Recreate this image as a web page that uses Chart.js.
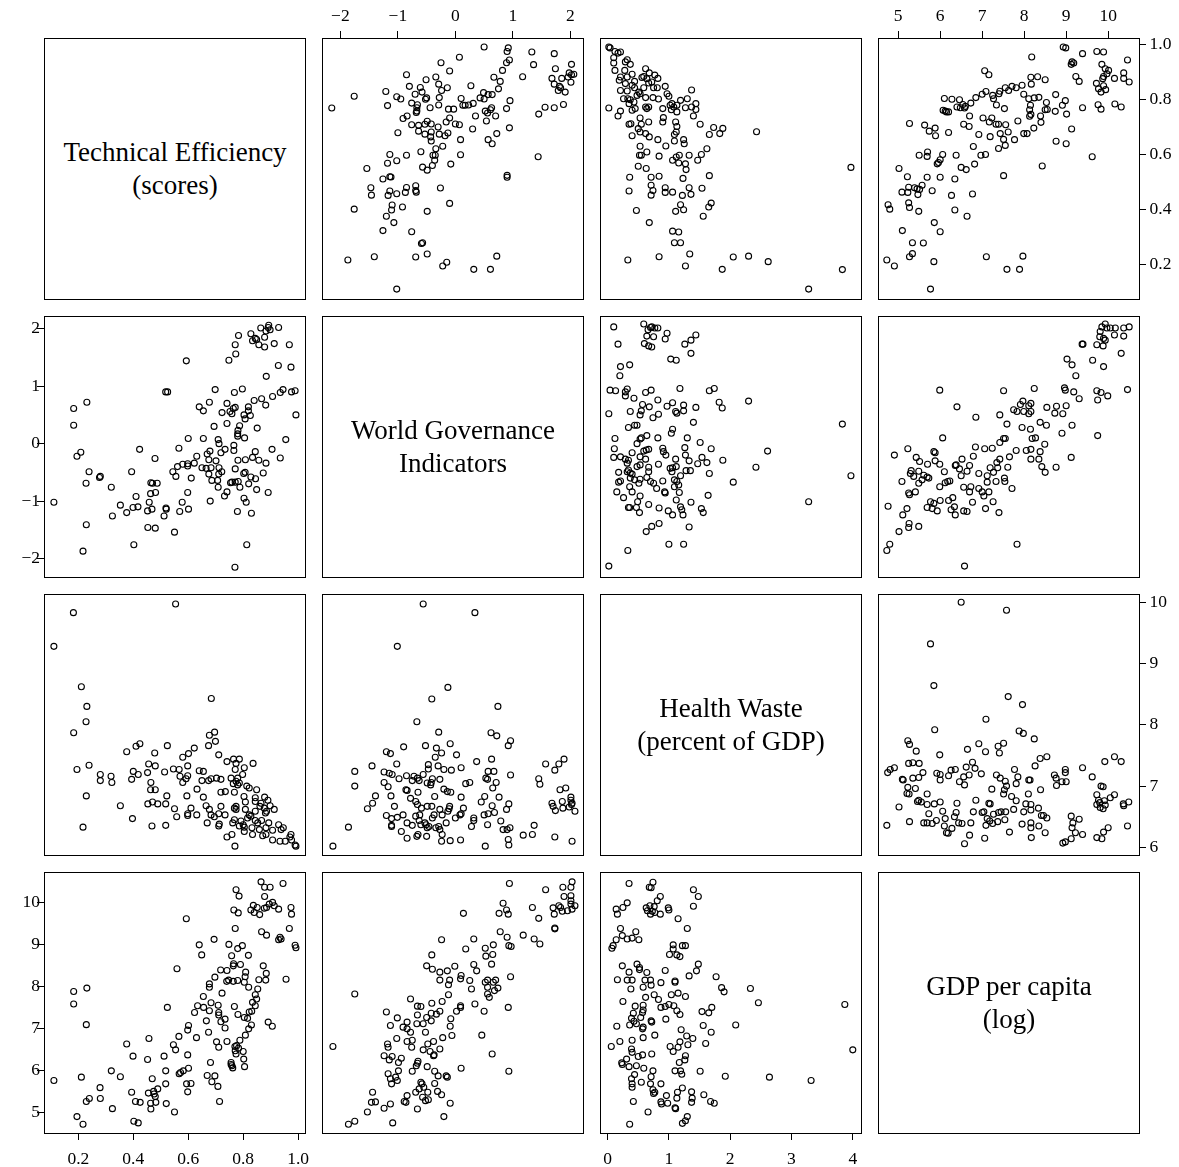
<!DOCTYPE html>
<html><head><meta charset="utf-8">
<script src="https://cdn.jsdelivr.net/npm/chart.js@4.4.1/dist/chart.umd.min.js"></script>
<style>
html,body{margin:0;padding:0;background:#fff;}
#wrap{position:relative;width:1179px;height:1167px;overflow:hidden;background:#fff;}
#wrap canvas{position:absolute;}
.diag{position:absolute;box-sizing:border-box;border:1px solid #000;display:flex;flex-direction:column;align-items:center;justify-content:center;text-align:center;font-family:"Liberation Serif","Times New Roman",serif;font-size:27px;line-height:33px;color:#000;}
</style></head><body><div id="wrap"></div>
<script>
// ---- variables (diagonal order) ----
const varKeys = ['te','wgi','hw','gdp'];
const diagLabels = [
  ['Technical Efficiency','(scores)'],
  ['World Governance','Indicators'],
  ['Health Waste','(percent of GDP)'],
  ['GDP per capita','(log)']
];
// ---- tick values and labels ----
const teTicks = [0.2,0.4,0.6,0.8,1.0];
const teTickLabels = ['0.2','0.4','0.6','0.8','1.0'];
const wgiTicks = [-2,-1,0,1,2];
const wgiTickLabels = ['\u22122','\u22121','0','1','2'];
const hwTicks = [0,1,2,3,4];
const hwTickLabelsBottom = ['0','1','2','3','4'];
const hwTickLabelsRight = ['6','7','8','9','10'];
const gdpTicks = [5,6,7,8,9,10];
const gdpTickLabels = ['5','6','7','8','9','10'];

// ---- observed pairs, [x, y] as in the upper-triangle panels ----
// [WGI, TE]
const pairsWgiTe = [[0.50,0.992],[0.92,0.989],[0.90,0.976],[1.33,0.974],[1.72,0.968],[0.07,0.955],[-0.25,0.935],[0.94,0.945],[0.89,0.935],[1.36,0.928],[2.02,0.929],[-0.10,0.905],[0.82,0.907],[1.74,0.913],[-0.85,0.891],[-0.34,0.883],[0.67,0.882],[1.17,0.884],[1.68,0.878],[1.85,0.878],[1.98,0.898],[2.02,0.891],[2.06,0.893],[1.96,0.883],[2.01,0.864],[-0.51,0.873],[0.78,0.867],[-0.80,0.849],[-0.29,0.857],[-0.61,0.845],[-0.14,0.844],[0.27,0.851],[1.72,0.857],[1.81,0.849],[1.83,0.844],[1.79,0.834],[1.91,0.828],[-1.21,0.830],[-0.24,0.834],[-0.58,0.828],[0.75,0.840],[0.49,0.826],[0.57,0.819],[0.64,0.819],[-0.70,0.820],[-1.02,0.811],[-0.95,0.803],[-1.76,0.813],[-0.50,0.807],[-0.52,0.802],[-0.28,0.808],[0.10,0.805],[0.43,0.807],[0.50,0.803],[0.95,0.797],[-0.76,0.788],[-0.66,0.782],[-0.29,0.781],[-1.18,0.779],[0.13,0.780],[0.17,0.780],[0.23,0.781],[0.31,0.787],[1.88,0.783],[1.56,0.773],[1.72,0.771],[-2.15,0.770],[-0.67,0.771],[-0.67,0.759],[-0.68,0.754],[-0.44,0.771],[-0.12,0.766],[-0.03,0.766],[0.63,0.771],[0.89,0.768],[0.52,0.759],[0.61,0.764],[0.56,0.752],[1.45,0.748],[0.35,0.741],[0.70,0.741],[-0.84,0.741],[-0.91,0.732],[-0.10,0.734],[0.54,0.723],[-0.49,0.722],[-0.53,0.711],[-0.42,0.712],[-0.16,0.719],[-0.76,0.709],[-0.64,0.707],[-0.30,0.701],[0.00,0.712],[0.07,0.709],[0.30,0.694],[0.94,0.698],[-1.00,0.680],[-0.64,0.686],[-0.53,0.675],[-0.42,0.683],[-0.43,0.665],[-0.42,0.650],[-0.28,0.675],[-0.18,0.669],[-0.13,0.679],[0.72,0.677],[0.57,0.655],[0.64,0.640],[0.09,0.655],[-0.22,0.631],[-0.34,0.622],[-0.60,0.611],[-0.39,0.598],[-0.35,0.598],[-0.36,0.580],[-1.14,0.601],[-0.85,0.598],[0.09,0.600],[1.44,0.593],[-1.18,0.569],[-1.02,0.578],[-0.08,0.566],[-1.54,0.550],[-0.57,0.555],[-0.49,0.544],[-0.40,0.561],[-1.26,0.512],[-1.14,0.520],[-1.12,0.519],[0.90,0.525],[0.90,0.518],[-0.69,0.487],[-1.47,0.480],[-0.85,0.481],[-0.26,0.479],[-1.46,0.453],[-1.14,0.468],[-1.17,0.452],[-1.02,0.458],[-0.87,0.463],[-0.69,0.470],[-0.68,0.464],[-0.10,0.423],[-1.76,0.402],[-1.10,0.417],[-1.11,0.399],[-0.92,0.410],[-0.49,0.394],[-1.20,0.376],[-1.07,0.353],[-1.26,0.324],[-0.76,0.320],[-0.57,0.280],[-0.59,0.277],[-1.87,0.217],[-1.41,0.229],[-0.69,0.228],[-0.49,0.239],[-0.15,0.209],[-0.22,0.195],[0.32,0.183],[0.61,0.183],[0.72,0.231],[-1.02,0.111]];
// [HW, TE]
const pairsHwTe = [[0.02,0.992],[0.04,0.989],[0.12,0.976],[0.17,0.970],[0.21,0.974],[0.10,0.953],[0.32,0.946],[0.29,0.938],[0.37,0.929],[0.10,0.934],[0.12,0.907],[0.28,0.907],[0.62,0.913],[0.40,0.893],[0.59,0.885],[0.68,0.898],[0.77,0.890],[0.82,0.878],[0.64,0.877],[0.56,0.881],[0.21,0.883],[0.32,0.883],[0.19,0.871],[0.44,0.867],[0.67,0.861],[0.72,0.865],[0.29,0.859],[0.40,0.853],[0.94,0.849],[0.75,0.844],[0.81,0.844],[0.59,0.844],[0.21,0.834],[0.32,0.832],[0.44,0.844],[1.37,0.836],[0.51,0.828],[0.53,0.822],[0.48,0.816],[0.97,0.822],[1.00,0.813],[0.26,0.804],[0.33,0.804],[0.37,0.800],[0.62,0.808],[0.74,0.808],[0.83,0.803],[0.35,0.786],[0.43,0.792],[1.19,0.798],[1.30,0.804],[1.02,0.780],[1.05,0.786],[1.08,0.774],[1.13,0.780],[1.27,0.771],[1.37,0.774],[1.44,0.786],[1.44,0.765],[0.02,0.770],[0.21,0.759],[0.17,0.741],[0.40,0.762],[0.45,0.768],[0.62,0.774],[0.67,0.774],[0.64,0.768],[0.90,0.768],[1.04,0.764],[1.13,0.756],[1.40,0.741],[0.53,0.734],[0.91,0.735],[0.90,0.719],[0.67,0.719],[1.11,0.719],[1.13,0.703],[0.35,0.711],[0.38,0.713],[0.55,0.711],[0.50,0.695],[1.51,0.711],[1.73,0.699],[1.88,0.696],[1.66,0.674],[1.83,0.677],[2.43,0.684],[0.53,0.683],[0.62,0.677],[0.68,0.665],[0.40,0.669],[1.12,0.683],[1.09,0.674],[0.82,0.655],[1.09,0.650],[1.24,0.655],[1.25,0.640],[0.95,0.632],[0.53,0.631],[1.62,0.622],[0.64,0.610],[0.52,0.598],[0.55,0.598],[0.84,0.595],[1.17,0.598],[1.33,0.598],[1.53,0.601],[1.12,0.592],[1.06,0.580],[1.16,0.570],[1.27,0.567],[1.47,0.580],[0.50,0.558],[0.63,0.550],[1.28,0.546],[3.97,0.554],[0.36,0.518],[0.71,0.518],[0.84,0.522],[1.23,0.514],[1.66,0.524],[0.71,0.489],[0.74,0.470],[0.71,0.453],[0.35,0.468],[0.94,0.480],[0.94,0.463],[1.06,0.464],[1.33,0.480],[1.36,0.456],[1.22,0.452],[1.54,0.478],[1.69,0.424],[1.65,0.410],[1.19,0.418],[1.24,0.400],[1.11,0.394],[0.47,0.397],[1.56,0.376],[0.68,0.353],[1.06,0.322],[1.16,0.319],[1.09,0.280],[1.19,0.280],[0.33,0.217],[0.84,0.229],[1.34,0.239],[1.27,0.195],[2.05,0.228],[2.30,0.231],[2.62,0.211],[1.87,0.183],[3.83,0.182],[3.28,0.111]];
// [GDP, TE]
const pairsGdpTe = [[8.93,0.992],[8.99,0.989],[9.73,0.976],[9.89,0.974],[9.39,0.968],[8.18,0.956],[10.46,0.945],[9.14,0.938],[9.18,0.934],[9.12,0.929],[9.85,0.929],[7.06,0.906],[7.16,0.891],[9.93,0.913],[10.01,0.907],[9.97,0.895],[10.37,0.898],[10.15,0.878],[9.89,0.885],[9.87,0.877],[10.37,0.878],[10.50,0.865],[9.23,0.885],[9.31,0.867],[8.16,0.882],[8.32,0.884],[8.50,0.873],[8.17,0.857],[9.72,0.860],[9.89,0.851],[9.94,0.837],[9.77,0.840],[9.83,0.828],[7.95,0.853],[7.71,0.849],[7.55,0.844],[7.81,0.844],[7.63,0.834],[7.42,0.831],[7.40,0.822],[7.25,0.816],[7.09,0.830],[7.00,0.820],[6.85,0.808],[6.73,0.788],[7.99,0.820],[8.11,0.804],[8.24,0.807],[8.35,0.809],[8.75,0.819],[8.98,0.797],[8.53,0.790],[8.50,0.764],[8.55,0.765],[8.91,0.780],[8.74,0.758],[9.01,0.748],[9.39,0.771],[9.76,0.782],[9.83,0.766],[10.16,0.785],[10.31,0.774],[6.10,0.805],[6.28,0.802],[6.46,0.800],[6.48,0.771],[6.54,0.783],[6.60,0.776],[6.40,0.774],[6.58,0.770],[6.07,0.762],[6.12,0.759],[6.20,0.756],[6.15,0.756],[7.27,0.804],[7.34,0.781],[7.53,0.768],[8.15,0.780],[8.13,0.764],[8.16,0.747],[8.39,0.741],[8.40,0.718],[8.13,0.740],[6.70,0.741],[7.02,0.734],[7.23,0.734],[7.17,0.719],[7.33,0.711],[7.39,0.711],[7.56,0.709],[7.85,0.723],[8.23,0.697],[9.13,0.694],[5.27,0.714],[5.63,0.708],[5.88,0.697],[5.74,0.686],[5.89,0.669],[6.20,0.681],[6.56,0.711],[6.69,0.703],[6.92,0.674],[7.19,0.666],[7.43,0.677],[7.62,0.683],[7.51,0.656],[7.77,0.655],[7.99,0.677],[8.07,0.677],[8.76,0.649],[9.00,0.640],[6.79,0.630],[7.55,0.634],[7.39,0.623],[5.50,0.598],[5.70,0.610],[5.69,0.594],[6.06,0.601],[6.00,0.582],[5.96,0.572],[5.93,0.567],[6.38,0.598],[6.97,0.598],[7.08,0.601],[6.82,0.566],[6.50,0.554],[6.62,0.546],[9.62,0.593],[8.43,0.559],[7.51,0.524],[5.02,0.550],[5.22,0.520],[5.69,0.518],[6.00,0.518],[6.35,0.512],[5.25,0.482],[5.39,0.480],[5.45,0.476],[5.51,0.474],[5.57,0.489],[5.09,0.464],[5.23,0.463],[5.47,0.455],[5.81,0.469],[6.27,0.452],[6.77,0.457],[4.76,0.418],[4.80,0.402],[5.25,0.425],[5.27,0.408],[5.49,0.394],[6.35,0.399],[6.64,0.376],[5.86,0.353],[6.00,0.320],[5.10,0.324],[5.34,0.280],[5.60,0.279],[5.27,0.229],[5.34,0.240],[4.73,0.217],[4.91,0.195],[5.85,0.211],[7.10,0.229],[7.97,0.231],[7.59,0.183],[7.89,0.183],[5.77,0.111]];
// [HW, WGI]
const pairsHwWgi = [[0.10,2.03],[0.59,2.08],[0.66,1.98],[0.70,2.02],[0.72,2.03],[0.77,2.01],[0.82,2.01],[0.64,1.87],[0.75,1.86],[0.97,1.92],[0.94,1.82],[1.44,1.89],[1.36,1.80],[1.26,1.73],[0.60,1.74],[0.67,1.70],[0.72,1.68],[0.17,1.73],[1.36,1.57],[1.03,1.47],[1.12,1.45],[0.21,1.34],[0.36,1.37],[0.20,1.18],[0.04,0.93],[0.13,0.92],[0.29,0.90],[0.32,0.95],[0.29,0.83],[0.62,0.89],[0.71,0.93],[1.18,0.96],[1.66,0.92],[1.74,0.96],[0.43,0.79],[0.82,0.76],[0.57,0.68],[0.68,0.64],[0.97,0.65],[1.06,0.71],[1.24,0.67],[1.24,0.57],[1.44,0.63],[1.82,0.72],[1.87,0.62],[2.30,0.74],[0.02,0.52],[0.37,0.56],[0.53,0.50],[0.55,0.57],[0.74,0.45],[0.83,0.51],[1.11,0.56],[1.13,0.53],[1.40,0.37],[0.44,0.32],[0.48,0.32],[0.34,0.28],[1.06,0.25],[1.04,0.18],[3.83,0.34],[0.12,0.09],[0.55,0.10],[0.53,0.08],[0.64,0.14],[0.82,0.10],[1.30,0.10],[1.51,0.02],[0.48,0.00],[0.11,-0.09],[0.40,-0.16],[0.59,-0.13],[0.63,-0.11],[0.67,-0.10],[0.90,-0.08],[0.91,-0.14],[0.95,-0.20],[1.26,-0.07],[1.27,-0.20],[1.69,-0.09],[2.61,-0.13],[0.10,-0.24],[0.21,-0.23],[0.29,-0.27],[0.34,-0.29],[0.53,-0.23],[0.62,-0.27],[0.32,-0.34],[0.48,-0.40],[0.53,-0.37],[0.83,-0.36],[1.11,-0.27],[1.33,-0.30],[1.47,-0.35],[1.54,-0.24],[1.62,-0.33],[1.88,-0.29],[2.42,-0.41],[0.18,-0.50],[0.32,-0.49],[0.34,-0.46],[0.37,-0.51],[0.40,-0.53],[0.67,-0.41],[0.67,-0.49],[1.02,-0.43],[1.06,-0.42],[1.12,-0.40],[1.05,-0.49],[1.19,-0.56],[1.28,-0.47],[1.35,-0.47],[1.66,-0.52],[3.97,-0.56],[0.21,-0.65],[0.18,-0.67],[0.37,-0.60],[0.44,-0.63],[0.53,-0.62],[0.51,-0.69],[0.64,-0.59],[0.70,-0.66],[0.75,-0.69],[0.90,-0.65],[1.09,-0.63],[1.13,-0.66],[1.16,-0.72],[1.09,-0.75],[2.05,-0.67],[0.15,-0.84],[0.36,-0.75],[0.40,-0.84],[0.80,-0.78],[0.93,-0.84],[0.94,-0.86],[1.17,-0.85],[0.26,-0.94],[0.53,-0.91],[0.49,-1.01],[1.12,-0.98],[1.36,-1.02],[1.64,-0.90],[3.28,-1.01],[0.36,-1.11],[0.34,-1.11],[0.47,-1.11],[0.52,-1.20],[0.67,-1.06],[0.84,-1.12],[0.99,-1.17],[1.06,-1.24],[1.19,-1.10],[1.21,-1.15],[1.23,-1.24],[1.53,-1.13],[1.56,-1.20],[0.63,-1.53],[0.72,-1.44],[0.84,-1.39],[1.33,-1.45],[1.00,-1.75],[1.24,-1.75],[0.33,-1.86],[0.02,-2.13]];
// [GDP, WGI]
const pairsGdpWgi = [[9.93,2.08],[9.85,2.03],[9.97,2.01],[10.05,2.01],[10.17,2.01],[10.37,2.01],[10.50,2.03],[9.81,1.95],[9.80,1.86],[9.89,1.83],[9.93,1.80],[10.15,1.89],[10.37,1.87],[9.73,1.72],[9.88,1.70],[9.38,1.73],[9.40,1.73],[10.31,1.57],[9.02,1.47],[9.14,1.37],[9.63,1.45],[9.89,1.34],[9.23,1.18],[5.99,0.93],[7.51,0.92],[8.24,0.96],[8.96,0.97],[8.98,0.93],[9.18,0.90],[9.73,0.92],[9.83,0.89],[9.99,0.83],[10.46,0.94],[9.31,0.78],[9.75,0.76],[6.40,0.64],[7.97,0.74],[7.91,0.68],[8.16,0.70],[8.11,0.66],[8.54,0.63],[8.77,0.65],[9.00,0.66],[7.75,0.59],[7.83,0.56],[7.99,0.56],[8.11,0.52],[8.16,0.56],[8.73,0.53],[8.92,0.52],[6.85,0.46],[7.42,0.50],[7.59,0.34],[8.38,0.37],[8.53,0.32],[7.95,0.28],[8.15,0.25],[9.14,0.32],[8.90,0.18],[9.75,0.14],[6.06,0.10],[7.51,0.09],[7.55,0.09],[7.42,0.02],[8.19,0.09],[8.27,0.10],[8.49,-0.01],[4.91,-0.20],[5.23,-0.09],[5.85,-0.14],[5.88,-0.16],[6.84,-0.06],[7.06,-0.09],[7.24,-0.08],[7.81,-0.12],[8.05,-0.12],[8.16,-0.10],[8.38,-0.14],[9.12,-0.24],[5.43,-0.24],[5.51,-0.31],[5.70,-0.36],[5.88,-0.30],[5.99,-0.36],[6.38,-0.37],[6.52,-0.27],[6.79,-0.22],[7.65,-0.23],[7.42,-0.27],[7.35,-0.33],[8.16,-0.27],[8.35,-0.27],[8.42,-0.40],[8.50,-0.50],[8.76,-0.41],[5.31,-0.47],[5.29,-0.52],[5.37,-0.57],[5.49,-0.48],[5.61,-0.55],[5.69,-0.58],[5.73,-0.60],[5.57,-0.63],[5.49,-0.69],[6.10,-0.49],[6.36,-0.38],[6.46,-0.44],[6.50,-0.56],[6.64,-0.48],[6.70,-0.38],[6.92,-0.52],[7.12,-0.56],[7.19,-0.42],[7.27,-0.50],[7.37,-0.42],[7.61,-0.41],[5.09,-0.66],[5.41,-0.84],[5.25,-0.86],[5.27,-0.89],[5.99,-0.75],[6.12,-0.68],[6.18,-0.66],[6.23,-0.65],[6.56,-0.76],[6.73,-0.75],[6.70,-0.84],[6.92,-0.78],[7.00,-0.84],[7.04,-0.91],[7.12,-0.67],[7.33,-0.66],[7.53,-0.60],[7.54,-0.66],[7.71,-0.78],[7.16,-0.84],[4.76,-1.09],[5.21,-1.13],[5.11,-1.24],[5.77,-1.01],[5.85,-1.04],[5.69,-1.11],[5.81,-1.13],[5.93,-1.17],[6.00,-0.99],[6.20,-0.99],[6.30,-0.94],[6.26,-1.15],[6.34,-1.10],[6.36,-1.24],[6.56,-1.17],[6.64,-1.18],[6.77,-1.02],[7.08,-1.13],[7.26,-1.01],[7.40,-1.20],[5.26,-1.39],[5.25,-1.46],[5.49,-1.44],[5.02,-1.53],[4.80,-1.75],[4.73,-1.86],[7.83,-1.75],[6.58,-2.13]];
// [GDP, HW]
const pairsGdpHw = [[6.50,4.00],[7.58,3.87],[5.77,3.32],[5.85,2.64],[7.62,2.46],[7.96,2.33],[7.09,2.09],[5.87,1.92],[7.88,1.90],[7.98,1.86],[8.24,1.77],[5.23,1.74],[5.27,1.68],[5.43,1.57],[6.65,1.60],[6.92,1.69],[7.08,1.56],[7.38,1.65],[7.51,1.70],[7.41,1.54],[5.99,1.51],[8.38,1.45],[8.54,1.48],[5.25,1.37],[5.35,1.38],[5.50,1.37],[6.77,1.39],[6.62,1.31],[6.83,1.29],[7.77,1.27],[8.26,1.33],[8.98,1.27],[9.39,1.30],[9.92,1.40],[10.15,1.48],[10.31,1.40],[4.75,1.22],[4.81,1.27],[4.91,1.30],[5.59,1.22],[5.92,1.21],[6.00,1.19],[6.20,1.17],[6.26,1.26],[6.36,1.27],[6.56,1.15],[6.69,1.18],[6.98,1.20],[7.34,1.18],[7.43,1.13],[7.85,1.15],[8.11,1.10],[8.14,1.10],[8.72,1.18],[8.76,1.13],[8.98,1.22],[8.90,1.07],[9.00,1.07],[9.62,1.15],[5.10,1.11],[5.12,1.10],[5.35,1.13],[5.49,1.14],[6.00,1.10],[6.46,1.07],[6.58,1.02],[7.55,1.08],[7.58,1.00],[7.81,1.04],[8.77,1.01],[5.23,0.98],[5.41,0.96],[5.21,0.88],[5.26,0.87],[5.69,0.87],[7.23,0.95],[7.53,0.94],[7.51,0.87],[7.70,0.83],[8.10,0.87],[8.39,0.94],[9.83,1.00],[9.88,0.99],[5.49,0.77],[5.46,0.75],[5.55,0.74],[5.69,0.70],[5.02,0.66],[5.86,0.71],[6.00,0.74],[6.40,0.72],[6.85,0.77],[7.16,0.72],[7.19,0.71],[7.81,0.76],[8.04,0.71],[8.16,0.70],[8.34,0.64],[9.73,0.86],[9.77,0.77],[9.80,0.73],[9.91,0.76],[10.05,0.81],[10.15,0.86],[10.36,0.71],[10.49,0.74],[9.73,0.70],[9.81,0.65],[9.88,0.63],[9.93,0.69],[10.37,0.68],[5.73,0.55],[6.06,0.59],[6.12,0.47],[6.38,0.57],[6.34,0.50],[6.79,0.58],[7.00,0.57],[7.04,0.58],[7.12,0.47],[7.27,0.54],[7.39,0.57],[7.45,0.58],[7.56,0.58],[7.75,0.62],[7.99,0.58],[8.16,0.61],[8.41,0.52],[8.46,0.52],[8.54,0.48],[9.12,0.51],[9.31,0.46],[4.73,0.36],[5.27,0.42],[5.61,0.40],[5.69,0.40],[5.81,0.39],[5.91,0.44],[6.10,0.35],[6.28,0.31],[6.15,0.24],[6.19,0.23],[6.44,0.40],[6.52,0.39],[6.73,0.40],[7.09,0.36],[7.18,0.43],[7.25,0.39],[7.37,0.42],[7.54,0.45],[7.95,0.38],[8.16,0.40],[8.16,0.32],[8.35,0.35],[7.65,0.25],[6.70,0.20],[6.58,0.06],[7.06,0.15],[8.17,0.16],[8.50,0.24],[9.16,0.40],[9.14,0.32],[9.22,0.24],[9.39,0.21],[9.12,0.14],[8.98,0.09],[8.92,0.07],[10.00,0.32],[9.89,0.25],[9.73,0.16],[9.85,0.14],[10.46,0.35]];

// ---- scale setup per variable ----
const axisInfo = {
  te:  {min:0.075, max:1.025, ticks:teTicks,  bottom:teTickLabels,  right:teTickLabels,  top:teTickLabels,  left:teTickLabels},
  wgi: {min:-2.32, max:2.22,  ticks:wgiTicks, bottom:wgiTickLabels, right:wgiTickLabels, top:wgiTickLabels, left:wgiTickLabels},
  hw:  {min:-0.124,max:4.134, ticks:hwTicks,  bottom:hwTickLabelsBottom, right:hwTickLabelsRight, top:hwTickLabelsBottom, left:hwTickLabelsRight},
  gdp: {min:4.52,  max:10.734,ticks:gdpTicks, bottom:gdpTickLabels, right:gdpTickLabels, top:gdpTickLabels, left:gdpTickLabels}
};
const pairTable = {
  '0-1': pairsWgiTe, '0-2': pairsHwTe, '0-3': pairsGdpTe,
  '1-2': pairsHwWgi, '1-3': pairsGdpWgi, '2-3': pairsGdpHw
};

// ---- layout ----
const X0 = 44, Y0 = 38, STEP = 278, SIZE = 261, M = 38;
const FONT = '"Liberation Serif","Times New Roman",serif';
const PAD = {top: 4.5, bottom: 8.5, left: -3, right: 3.5};
const wrap = document.getElementById('wrap');

const boxPlugin = {
  id: 'panelBox',
  afterDraw(chart) {
    const {ctx, chartArea: a} = chart;
    ctx.save();
    ctx.strokeStyle = '#000';
    ctx.lineWidth = 1;
    ctx.strokeRect(Math.round(a.left) + 0.5, Math.round(a.top) + 0.5, Math.round(a.right - a.left), Math.round(a.bottom - a.top));
    ctx.restore();
  }
};

function scaleOpts(key, orient, side) {
  const info = axisInfo[key];
  const shown = !!side;
  const labels = shown ? info[side] : info.bottom;
  const o = {
    type: 'linear',
    min: info.min, max: info.max,
    position: side || (orient === 'x' ? 'bottom' : 'left'),
    display: shown,
    afterBuildTicks: s => { s.ticks = info.ticks.map(v => ({value: v})); },
    grid: {display: true, drawOnChartArea: false, drawTicks: true, tickLength: 7, color: '#000', lineWidth: 1},
    border: {display: false},
    ticks: {
      color: '#000', font: {family: FONT, size: 17.5},
      padding: shown ? PAD[side] : 0,
      autoSkip: false, maxRotation: 0, minRotation: 0,
      callback: (v) => { const i = info.ticks.findIndex(t => Math.abs(t - v) < 1e-9); return i >= 0 ? labels[i] : ''; }
    }
  };
  if (shown) {
    o.afterFit = s => { if (orient === 'x') s.height = M; else s.width = M; };
  }
  return o;
}

for (let r = 0; r < 4; r++) {
  for (let c = 0; c < 4; c++) {
    const left = X0 + STEP * c, top = Y0 + STEP * r;
    if (r === c) {
      const d = document.createElement('div');
      d.className = 'diag';
      d.style.left = left + 'px'; d.style.top = top + 'px';
      d.style.width = (SIZE + 1) + 'px'; d.style.height = (SIZE + 1) + 'px';
      diagLabels[r].forEach(t => { const s = document.createElement('div'); s.textContent = t; d.appendChild(s); });
      wrap.appendChild(d);
      continue;
    }
    const cv = document.createElement('canvas');
    const W = SIZE + 2 * M;
    cv.width = W; cv.height = W;
    cv.style.left = (left - M) + 'px'; cv.style.top = (top - M) + 'px';
    cv.style.width = W + 'px'; cv.style.height = W + 'px';
    wrap.appendChild(cv);

    const upper = r < c;
    const src = pairTable[upper ? r + '-' + c : c + '-' + r];
    const pts = src.map(p => upper ? {x: p[0], y: p[1]} : {x: p[1], y: p[0]});

    const xSide = (r === 0 && c % 2 === 1) ? 'top' : (r === 3 && c % 2 === 0) ? 'bottom' : null;
    const ySide = (c === 0 && r % 2 === 1) ? 'left' : (c === 3 && r % 2 === 0) ? 'right' : null;

    new Chart(cv, {
      type: 'scatter',
      data: {datasets: [{
        data: pts,
        pointStyle: 'circle', pointRadius: 3, pointBorderWidth: 1.1,
        borderColor: '#000', backgroundColor: 'rgba(0,0,0,0)',
        showLine: false, clip: false
      }]},
      options: {
        responsive: false, animation: false, devicePixelRatio: 1, events: [],
        layout: {padding: {
          left: ySide === 'left' ? 0 : M, right: ySide === 'right' ? 0 : M,
          top: xSide === 'top' ? 0 : M, bottom: xSide === 'bottom' ? 0 : M
        }},
        plugins: {legend: {display: false}, tooltip: {enabled: false}},
        scales: {x: scaleOpts(varKeys[c], 'x', xSide), y: scaleOpts(varKeys[r], 'y', ySide)}
      },
      plugins: [boxPlugin]
    });
  }
}
</script></body></html>
